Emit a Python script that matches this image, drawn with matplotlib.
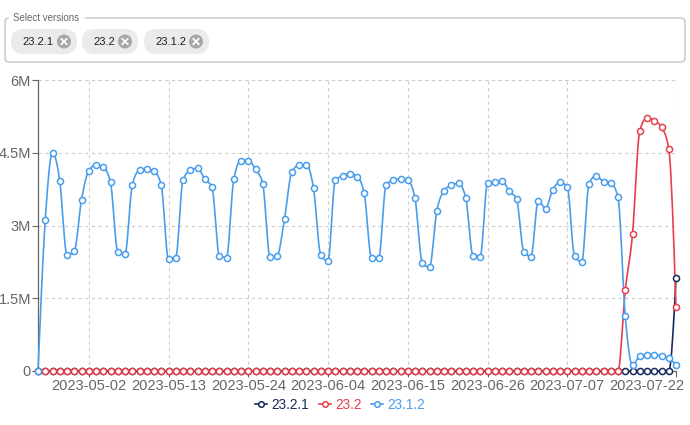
import numpy as np
import pandas as pd
import matplotlib
matplotlib.use('Agg')
import matplotlib.pyplot as plt
import matplotlib.dates as mdates
from matplotlib.patches import FancyBboxPatch, Circle
from matplotlib.lines import Line2D

plt.rcParams['font.family'] = ['Liberation Sans', 'DejaVu Sans']

# data (daily, 2023-04-25 .. 2023-07-22), values in millions
dates = pd.date_range('2023-04-25', '2023-07-22', freq='D')

v23_1_2 = [0.00, 3.11, 4.50, 3.92, 2.39, 2.47, 3.53, 4.13, 4.25, 4.20,
           3.89, 2.46, 2.41, 3.83, 4.14, 4.16, 4.12, 3.83, 2.30, 2.34,
           3.94, 4.14, 4.18, 3.96, 3.79, 2.38, 2.34, 3.95, 4.34, 4.34,
           4.16, 3.86, 2.35, 2.38, 3.14, 4.10, 4.24, 4.24, 3.77, 2.39,
           2.27, 3.94, 4.02, 4.07, 4.01, 3.66, 2.33, 2.33, 3.83, 3.94,
           3.96, 3.93, 3.56, 2.23, 2.14, 3.29, 3.72, 3.83, 3.87, 3.57,
           2.38, 2.36, 3.87, 3.90, 3.92, 3.71, 3.55, 2.46, 2.36, 3.51,
           3.35, 3.74, 3.89, 3.80, 2.37, 2.25, 3.86, 4.03, 3.90, 3.88,
           3.58, 1.13, 0.12, 0.30, 0.32, 0.34, 0.31, 0.27, 0.12]
v23_2 = [0.0] * 81 + [1.66, 2.82, 4.95, 5.22, 5.16, 5.03, 4.58, 1.31]
v23_2_1 = [0.0] * 88 + [1.91]

series = [('23.2.1', v23_2_1, '#172a5c'),
          ('23.2', v23_2, '#e4414c'),
          ('23.1.2', v23_1_2, '#4a9deb')]

tick_dates = ['2023-05-02', '2023-05-13', '2023-05-24', '2023-06-04',
              '2023-06-15', '2023-06-26', '2023-07-07', '2023-07-22']
y_ticks = [0, 1.5, 3, 4.5, 6]
y_labels = ['0', '1.5M', '3M', '4.5M', '6M']


def monotone(x, y, n=10):
    """monotone cubic (d3 curveMonotoneX style) for drawing the line"""
    x = np.asarray(x, float)
    y = np.asarray(y, float)
    h = np.diff(x)
    s = np.diff(y) / h
    m = np.zeros_like(y)
    for k in range(1, len(y) - 1):
        s0, s1 = s[k - 1], s[k]
        p = (s0 * h[k] + s1 * h[k - 1]) / (h[k - 1] + h[k])
        m[k] = (np.sign(s0) + np.sign(s1)) * min(abs(s0), abs(s1), 0.5 * abs(p))
    m[0] = (3 * s[0] - m[1]) / 2
    m[-1] = (3 * s[-1] - m[-2]) / 2
    xs, ys = [], []
    t = np.linspace(0, 1, n, endpoint=False)
    for k in range(len(x) - 1):
        h00 = 2 * t**3 - 3 * t**2 + 1
        h10 = t**3 - 2 * t**2 + t
        h01 = -2 * t**3 + 3 * t**2
        h11 = t**3 - t**2
        xs.append(x[k] + t * h[k])
        ys.append(h00 * y[k] + h10 * h[k] * m[k] + h01 * y[k + 1] + h11 * h[k] * m[k + 1])
    xs.append([x[-1]])
    ys.append([y[-1]])
    return np.concatenate(xs), np.concatenate(ys)


fig = plt.figure(figsize=(6.9, 4.25), dpi=100)

# ---- version selector box (pixel coordinates)
top = fig.add_axes([0, 0, 1, 1])
top.set_xlim(0, 690)
top.set_ylim(425, 0)
top.axis('off')
top.patch.set_visible(False)
top.add_patch(FancyBboxPatch((5, 18), 680, 44, boxstyle='round,pad=0,rounding_size=4',
                             fc='none', ec='#c6c6c6', lw=1))
top.add_patch(plt.Rectangle((9, 15), 76, 6, fc='white', ec='none'))
top.text(13, 18, 'Select versions', fontsize=7, color='#666666', va='center', ha='left')
chips = [('23.2.1', 11, 77), ('23.2', 82, 138), ('23.1.2', 144, 209)]
for lab, x0, x1 in chips:
    top.add_patch(FancyBboxPatch((x0, 29), x1 - x0, 25, boxstyle='round,pad=0,rounding_size=12.5',
                                 fc='#ebebeb', ec='none'))
    top.text(x0 + 11, 41.5, lab, fontsize=8, color='#1f1f1f', va='center', ha='left')
    cx = x1 - 13
    top.add_patch(Circle((cx, 41.5), 7, fc='#a7a7a7', ec='none'))
    d = 2.8
    top.plot([cx - d, cx + d], [41.5 - d, 41.5 + d], color='white', lw=1.3, solid_capstyle='round')
    top.plot([cx - d, cx + d], [41.5 + d, 41.5 - d], color='white', lw=1.3, solid_capstyle='round')

# ---- chart
ax = fig.add_axes([38 / 690, 1 - 371 / 425, (676 - 38) / 690, (371 - 80) / 425])
xn = mdates.date2num(dates)
for name, vals, col in series:
    sx, sy = monotone(xn, vals)
    ax.plot(sx, sy, color=col, lw=1.2, zorder=3, clip_on=False)
    ax.plot(xn, vals, ls='none', marker='o', ms=4.4, mfc='white', mec=col, mew=1.1,
            zorder=4, clip_on=False)

ax.set_xlim(xn[0], xn[-1])
ax.set_ylim(0, 6)
tk = mdates.date2num(pd.to_datetime(tick_dates))
ax.set_xticks(tk)
# last label is pushed left of its tick so it stays inside the figure
ax.set_xticklabels(tick_dates[:-1] + [''])
ax.annotate(tick_dates[-1], xy=(tk[-1] + 1.1, 0), xycoords=('data', 'axes fraction'),
            xytext=(0, -6), textcoords='offset points', ha='right', va='top',
            fontsize=10.5, color='#666666', annotation_clip=False)
ax.set_yticks(y_ticks)
ax.set_yticklabels(y_labels)
ax.tick_params(axis='both', colors='#666666', labelsize=10.5, length=4, width=0.8)
ax.tick_params(axis='x', pad=2)
ax.tick_params(axis='y', pad=1)
for s in ['top', 'right']:
    ax.spines[s].set_visible(False)
for s in ['left', 'bottom']:
    ax.spines[s].set_color('#666666')
    ax.spines[s].set_linewidth(0.9)
ax.grid(True, color='#cccccc', ls=(0, (3, 3)), lw=0.8)
ax.set_axisbelow(True)
ax.axvline(tk[-1], color='#cccccc', ls=(0, (3, 3)), lw=0.8, zorder=0)
ax.axhline(6, color='#cccccc', ls=(0, (3, 3)), lw=0.8, zorder=0)

handles = [Line2D([0], [0], color=c, lw=1.2, marker='o', ms=4, mfc='white', mec=c, mew=1.1)
           for _, _, c in series]
fig.legend(handles, [n for n, _, _ in series], loc='center', bbox_to_anchor=(340 / 690, 1 - 405 / 425),
           ncol=3, frameon=False, fontsize=9.8, handlelength=0.9, handletextpad=0.3,
           columnspacing=0.7, labelcolor='linecolor')

fig.savefig('out.png', dpi=100)
